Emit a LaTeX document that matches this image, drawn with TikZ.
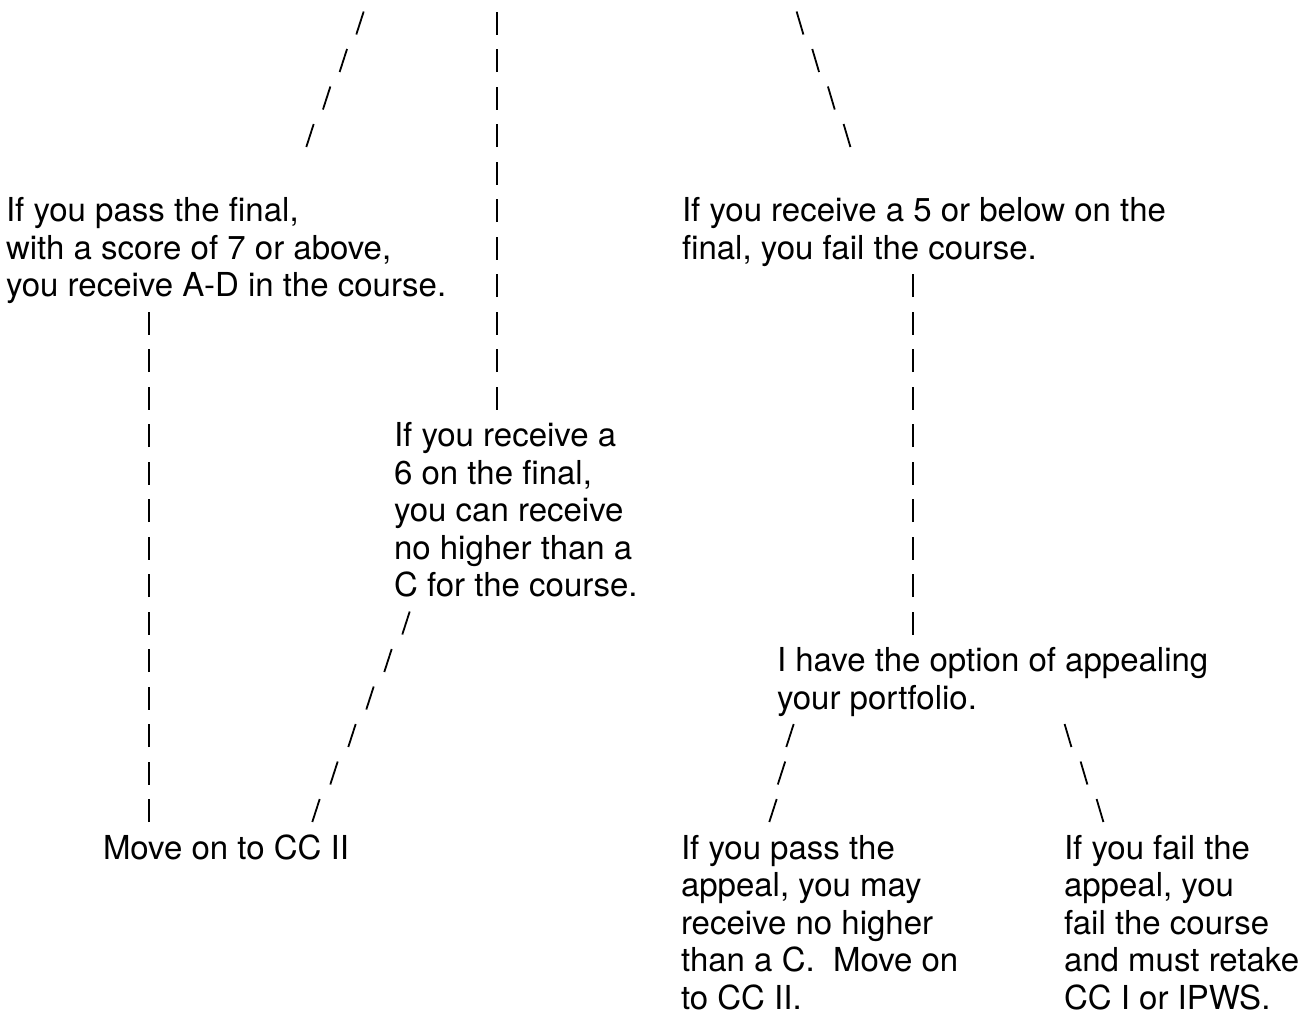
\documentclass[tikz,border=0pt]{standalone}
\usepackage{fontspec}
\setmainfont{TeX Gyre Heros}
\usetikzlibrary{calc}
\tikzset{
  txt/.style={anchor=north west, inner sep=0pt, outer sep=0pt, align=left,
    font=\fontsize{33}{37.5}\selectfont},
  glyph/.style={line width=1.8pt, line cap=butt, black},
}
% glyph connector: start, end, number of gaps, horizontal half-slant
\newcommand\glyphline[4]{%
  \foreach \k in {0,...,#3}{%
    \draw[glyph] ($(#1)!{\k/#3}!(#2)$) ++({-1*(#4)},-11.5) -- ++({2*(#4)},23);}}
\begin{document}
\begin{tikzpicture}[x=1pt,y=1pt]
\useasboundingbox (0,0) rectangle (1312,-1010);

% text nodes (row r: top = 7.75 + 37.5 r)
\node[txt] (t1) at (6,{-(7.75+37.5*5)}) {\strut If you pass the final,\\with a score of 7 or above,\\you receive A-D in the course.};
\node[txt] (t2) at (682,{-(7.75+37.5*5)}) {\strut If you receive a 5 or below on the\\final, you fail the course.};
\node[txt] (t3) at (394,{-(7.75+37.5*11)}) {\strut If you receive a\\6 on the final,\\you can receive\\no higher than a\\C for the course.};
\node[txt] (t4) at (103,{-(7.75+37.5*22)}) {\strut Move on to CC II};
\node[txt] (t5) at (777,{-(7.75+37.5*17)}) {\strut I have the option of appealing\\your portfolio.};
\node[txt] (t6) at (681,{-(7.75+37.5*22)}) {\strut If you pass the\\appeal, you may\\receive no higher\\than a C.\ \ Move on\\to CC II.};
\node[txt] (t7) at (1064,{-(7.75+37.5*22)}) {\strut If you fail the\\appeal, you\\fail the course\\and must retake\\CC I or IPWS.};

% connector end points (glyph centres, row r: y = 23 + 37.5 r)
\coordinate (a0) at (360,{-(23+37.5*0)});
\coordinate (a1) at (310,{-(23+37.5*3)});
\coordinate (b0) at (497,{-(23+37.5*0)});
\coordinate (b1) at (497,{-(23+37.5*10)});
\coordinate (c0) at (800,{-(23+37.5*0)});
\coordinate (c1) at (847,{-(23+37.5*3)});
\coordinate (d0) at (149,{-(23+37.5*8)});
\coordinate (d1) at (149,{-(23+37.5*21)});
\coordinate (e0) at (406,{-(23+37.5*16)});
\coordinate (e1) at (316,{-(23+37.5*21)});
\coordinate (f0) at (913,{-(23+37.5*7)});
\coordinate (f1) at (913,{-(23+37.5*16)});
\coordinate (g0) at (790,{-(23+37.5*19)});
\coordinate (g1) at (773,{-(23+37.5*21)});
\coordinate (h0) at (1068,{-(23+37.5*19)});
\coordinate (h1) at (1100,{-(23+37.5*21)});

\glyphline{a0}{a1}{3}{3.7}
\glyphline{b0}{b1}{10}{0}
\glyphline{c0}{c1}{3}{-3.4}
\glyphline{d0}{d1}{13}{0}
\glyphline{e0}{e1}{5}{3.7}
\glyphline{f0}{f1}{9}{0}
\glyphline{g0}{g1}{2}{3.7}
\glyphline{h0}{h1}{2}{-3.4}
\end{tikzpicture}
\end{document}
